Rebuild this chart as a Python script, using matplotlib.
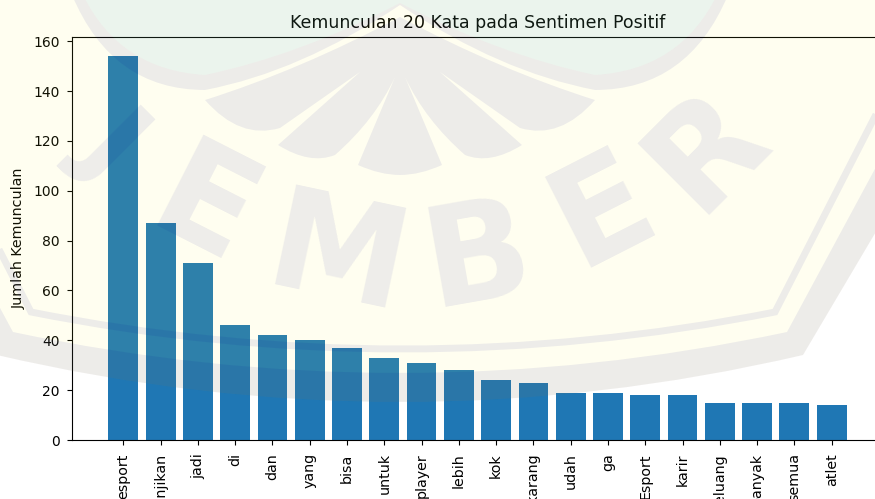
import matplotlib
matplotlib.use("Agg")
import matplotlib.pyplot as plt
from matplotlib.patches import PathPatch
from matplotlib.path import Path

kata = ["esport", "menjanjikan", "jadi", "di", "dan", "yang", "bisa", "untuk", "player", "lebih",
        "kok", "sekarang", "udah", "ga", "Esport", "karir", "peluang", "banyak", "semua", "atlet"]
jumlah = [154, 87, 71, 46, 42, 40, 37, 33, 31, 28, 24, 23, 19, 19, 18, 18, 15, 15, 15, 14]

W, H = 875, 499
IVORY = (1.0, 0.98, 0.2)
GREY = (0.0, 0.0, 0.6)
TEAL = (0.0, 0.5, 0.8)


def shape(overlay, steps, color, alpha, **kw):
    """Add a filled path given as (code, x, y) steps, in pixel coordinates."""
    codes = [s[0] for s in steps]
    verts = [(s[1], s[2]) for s in steps]
    overlay.add_patch(PathPatch(Path(verts, codes), facecolor=color, edgecolor="none", alpha=alpha, **kw))


def mirrored(overlay, steps, color, alpha, cx=400):
    shape(overlay, steps, color, alpha)
    shape(overlay, [(c, 2 * cx - x, y) for c, x, y in steps], color, alpha)


def watermark(fig):
    """Faint university stamp lying over the whole page."""
    overlay = fig.add_axes([0, 0, 1, 1], zorder=10)
    overlay.set_xlim(0, W)
    overlay.set_ylim(H, 0)
    overlay.axis("off")
    M, L, C, Z = Path.MOVETO, Path.LINETO, Path.CURVE3, Path.CLOSEPOLY

    # shield
    shape(overlay, [(M, -90, -5), (L, 890, -5), (L, 890, 208), (L, 803, 355), (C, 400, 449), (C, -3, 355),
                    (L, -90, 208), (Z, -90, -5)], IVORY, 0.07)
    shape(overlay, [(M, 890, 208), (L, 803, 355), (C, 400, 449), (C, -3, 355), (L, -90, 208), (L, -90, 141),
                    (L, 13, 332), (C, 400, 414), (C, 787, 332), (L, 890, 141), (Z, 890, 208)], GREY, 0.07)
    overlay.add_patch(PathPatch(
        Path([(890, 87), (775, 312), (403, 386), (31, 312), (-84, 87)],
             [M, L, C, C, L]),
        facecolor="none", edgecolor=GREY, lw=5, alpha=0.07))

    # crest at the top
    mirrored(overlay, [(M, 83, -5), (C, 120, 70), (C, 205, 75), (C, 300, 55), (C, 400, 3), (L, 400, -5),
                       (Z, 83, -5)], TEAL, 0.08)
    mirrored(overlay, [(M, 72, -5), (C, 112, 90), (C, 205, 90), (C, 300, 72), (C, 400, 5), (L, 400, 3),
                       (C, 300, 55), (C, 205, 75), (C, 120, 70), (C, 83, -5), (Z, 72, -5)], GREY, 0.07)
    mirrored(overlay, [(M, 400, 17), (C, 300, 70), (C, 205, 100), (C, 240, 140), (C, 280, 128), (L, 360, 72),
                       (L, 278, 145), (C, 310, 165), (C, 335, 155), (C, 375, 120), (C, 395, 77), (L, 358, 165),
                       (C, 380, 175), (C, 400, 175), (Z, 400, 17)], GREY, 0.07)

    # JEMBER around the shield
    huruf = [("J", 113, 143, -45, 80), ("E", 203, 212, -27, 100), ("M", 337, 261, -12, 100),
             ("B", 478, 260, 10, 100), ("E", 603, 212, 27, 100), ("R", 706, 150, 45, 100)]
    for ch, x, y, rot, size in huruf:
        overlay.text(x, y, ch, fontsize=size, fontweight="bold", family="DejaVu Sans", color=GREY, alpha=0.07,
                     ha="center", va="center", rotation=rot, rotation_mode="anchor")


fig = plt.figure(figsize=(W / 100, H / 100), dpi=100)
ax = fig.add_axes([71.5 / W, (H - 440) / H, (883.5 - 71.5) / W, (440 - 37) / H])
ax.bar(kata, jumlah, color="#1f77b4")
ax.set_title("Kemunculan 20 Kata pada Sentimen Positif", fontsize=12.5, pad=6.5)
ax.set_ylabel("Jumlah Kemunculan", fontsize=10.3, labelpad=5)
ax.tick_params(axis="y", labelsize=10, length=3.6, pad=5)
ax.tick_params(axis="x", labelsize=10.3, length=3.6, pad=6, rotation=90)
watermark(fig)
fig.savefig("out.png", dpi=100)
